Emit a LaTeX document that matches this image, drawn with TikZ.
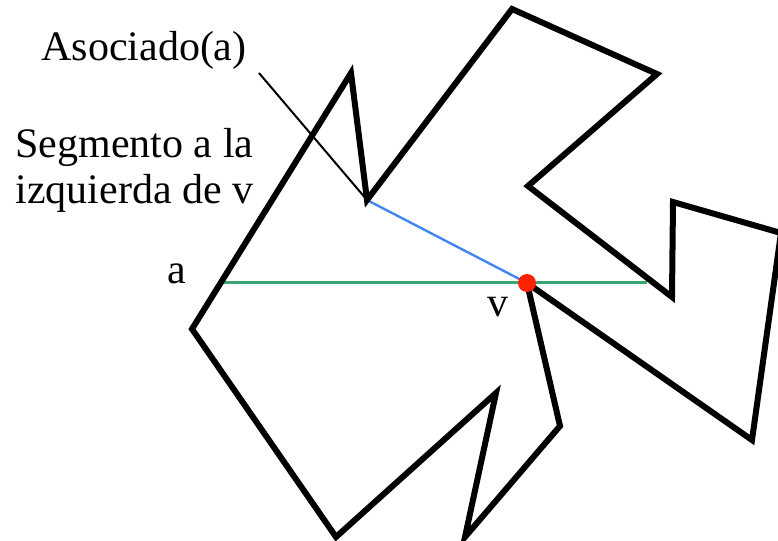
\documentclass[tikz,border=0pt]{standalone}
\usepackage{fontspec}
\setmainfont{Liberation Serif}
\definecolor{segverde}{RGB}{60,166,112}
\definecolor{segazul}{RGB}{66,133,244}
\definecolor{puntorojo}{RGB}{255,34,0}
\tikzset{
  poligono/.style={line width=3pt},
  etiqueta/.style={font=\fontsize{21}{23}\selectfont, inner sep=0pt}
}
\begin{document}
\begin{tikzpicture}[x=0.5pt, y=-0.5pt]
        \useasboundingbox (0,0) rectangle (778,541);
        % vertices del poligono
        \coordinate (p1) at (192,329);
        \coordinate (p2) at (351,73);
        \coordinate (p3) at (367,200);
        \coordinate (p4) at (512,9);
        \coordinate (p5) at (657,74);
        \coordinate (p6) at (528,186);
        \coordinate (p7) at (672,297);
        \coordinate (p8) at (673,202);
        \coordinate (p9) at (781,233);
        \coordinate (p10) at (752,440);
        \coordinate (v) at (527,283);
        \coordinate (p12) at (560,426);
        \coordinate (p13) at (465,537);
        \coordinate (p14) at (496,393);
        \coordinate (p15) at (336,537);
        \coordinate (a) at (223,282);
        \coordinate (b) at (647,282);
        \coordinate (cola) at (259,73);
        % segmentos
        \draw[segverde,line width=1.5pt] (a) -- (b);
        \draw[segazul,line width=1.2pt] (p3) -- (v);
        \draw[poligono] (p1) -- (p2) -- (p3) -- (p4) -- (p5) -- (p6) -- (p7) -- (p8) -- (p9)
            -- (p10) -- (v) -- (p12) -- (p13) -- (p14) -- (p15) -- cycle;
        \draw[line width=1pt] (cola) -- (p3);
        \fill[puntorojo] (v) circle (9);
        % textos
        \node[etiqueta,anchor=base] (asoc) at (144,60) {Asociado(a)};
        \node[etiqueta,anchor=base west,align=left] (izq) at (15,203)
            {Segmento a la\\izquierda de v};
        \node[etiqueta,anchor=base] (la) at (177,283) {a};
        \node[etiqueta,anchor=base] (lv) at (498,316) {v};
    \end{tikzpicture}
\end{document}
